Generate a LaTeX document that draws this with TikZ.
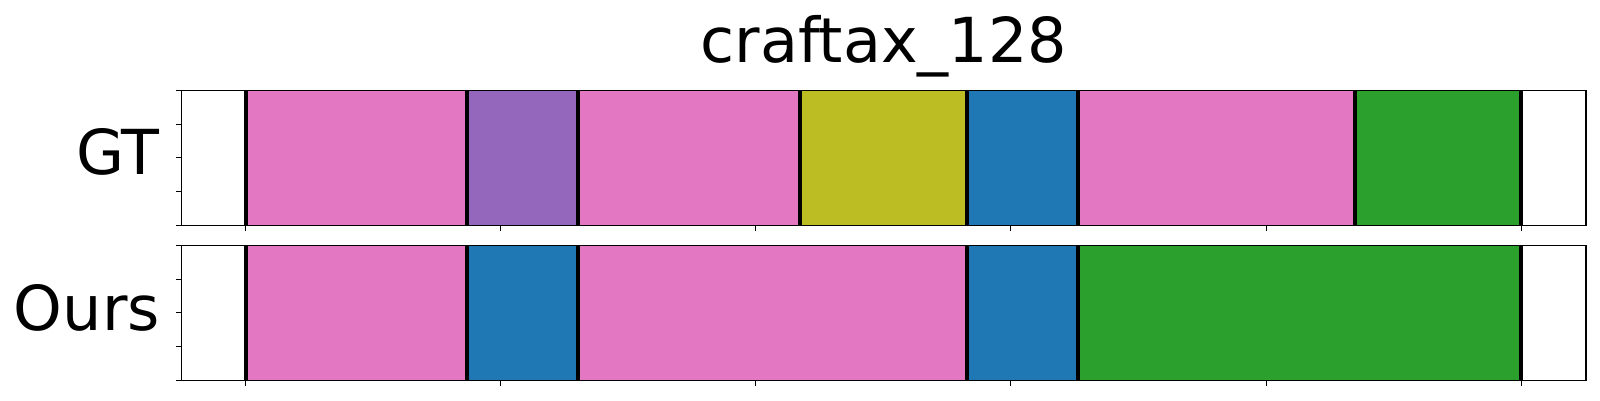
\documentclass[tikz,border=0pt]{standalone}
\usepackage{fontspec}
\setmainfont{DejaVu Sans}
\definecolor{tpink}{HTML}{E377C2}
\definecolor{tpurple}{HTML}{9467BD}
\definecolor{tolive}{HTML}{BCBD22}
\definecolor{tblue}{HTML}{1F77B4}
\definecolor{tgreen}{HTML}{2CA02C}
\begin{document}
\begin{tikzpicture}[x=1pt,y=-1pt,
  frame/.style={draw=black,line width=1.1pt},
  sep/.style={draw=black,line width=4pt},
  tickmark/.style={draw=black,line width=1pt},
  big/.style={font=\fontsize{62}{70}\selectfont,inner sep=0pt,text=black}]
\useasboundingbox (0,0) rectangle (1600,400);
\def\xa{181.5}\def\xb{1586}
\def\u{55.46}\def\xo{245.6}
% helper: segment from units a to b, colour c, top t, bottom b
\newcommand{\seg}[5]{\fill[#3] ({\xo+#1*\u},#4) rectangle ({\xo+#2*\u},#5);}
% ---- top axes (GT) ----
\seg{0}{4}{tpink}{90.3}{225.3}
\seg{4}{6}{tpurple}{90.3}{225.3}
\seg{6}{10}{tpink}{90.3}{225.3}
\seg{10}{13}{tolive}{90.3}{225.3}
\seg{13}{15}{tblue}{90.3}{225.3}
\seg{15}{20}{tpink}{90.3}{225.3}
\seg{20}{23}{tgreen}{90.3}{225.3}
\foreach \k in {0,4,6,10,13,15,20,23}
  \draw[sep] ({\xo+\k*\u},90.3) -- ({\xo+\k*\u},225.3);
% ---- bottom axes (Ours) ----
\seg{0}{4}{tpink}{245.3}{380.3}
\seg{4}{6}{tblue}{245.3}{380.3}
\seg{6}{13}{tpink}{245.3}{380.3}
\seg{13}{15}{tblue}{245.3}{380.3}
\seg{15}{23}{tgreen}{245.3}{380.3}
\foreach \k in {0,4,6,13,15,23}
  \draw[sep] ({\xo+\k*\u},245.3) -- ({\xo+\k*\u},380.3);
% frames
\draw[frame] (\xa,90.3) rectangle (\xb,225.3);
\draw[frame] (\xa,245.3) rectangle (\xb,380.3);
% ticks
\foreach \t in {0,1,2,3,4}{
  \draw[tickmark] (\xa,{90.3+\t*33.75}) -- ++(-5.5,0);
  \draw[tickmark] (\xa,{245.3+\t*33.75}) -- ++(-5.5,0);
}
\foreach \t in {0,...,5}{
  \draw[tickmark] ({\xo+\t*255.1},225.3) -- ++(0,5.5);
  \draw[tickmark] ({\xo+\t*255.1},380.3) -- ++(0,5.5);
}
% labels
\node[big,anchor=base] (title) at (883.8,62) {craftax\_128};
\node[big,anchor=base east] (gt) at (160,174) {GT};
\node[big,anchor=base east] (ours) at (160,330) {Ours};
\end{tikzpicture}
\end{document}
